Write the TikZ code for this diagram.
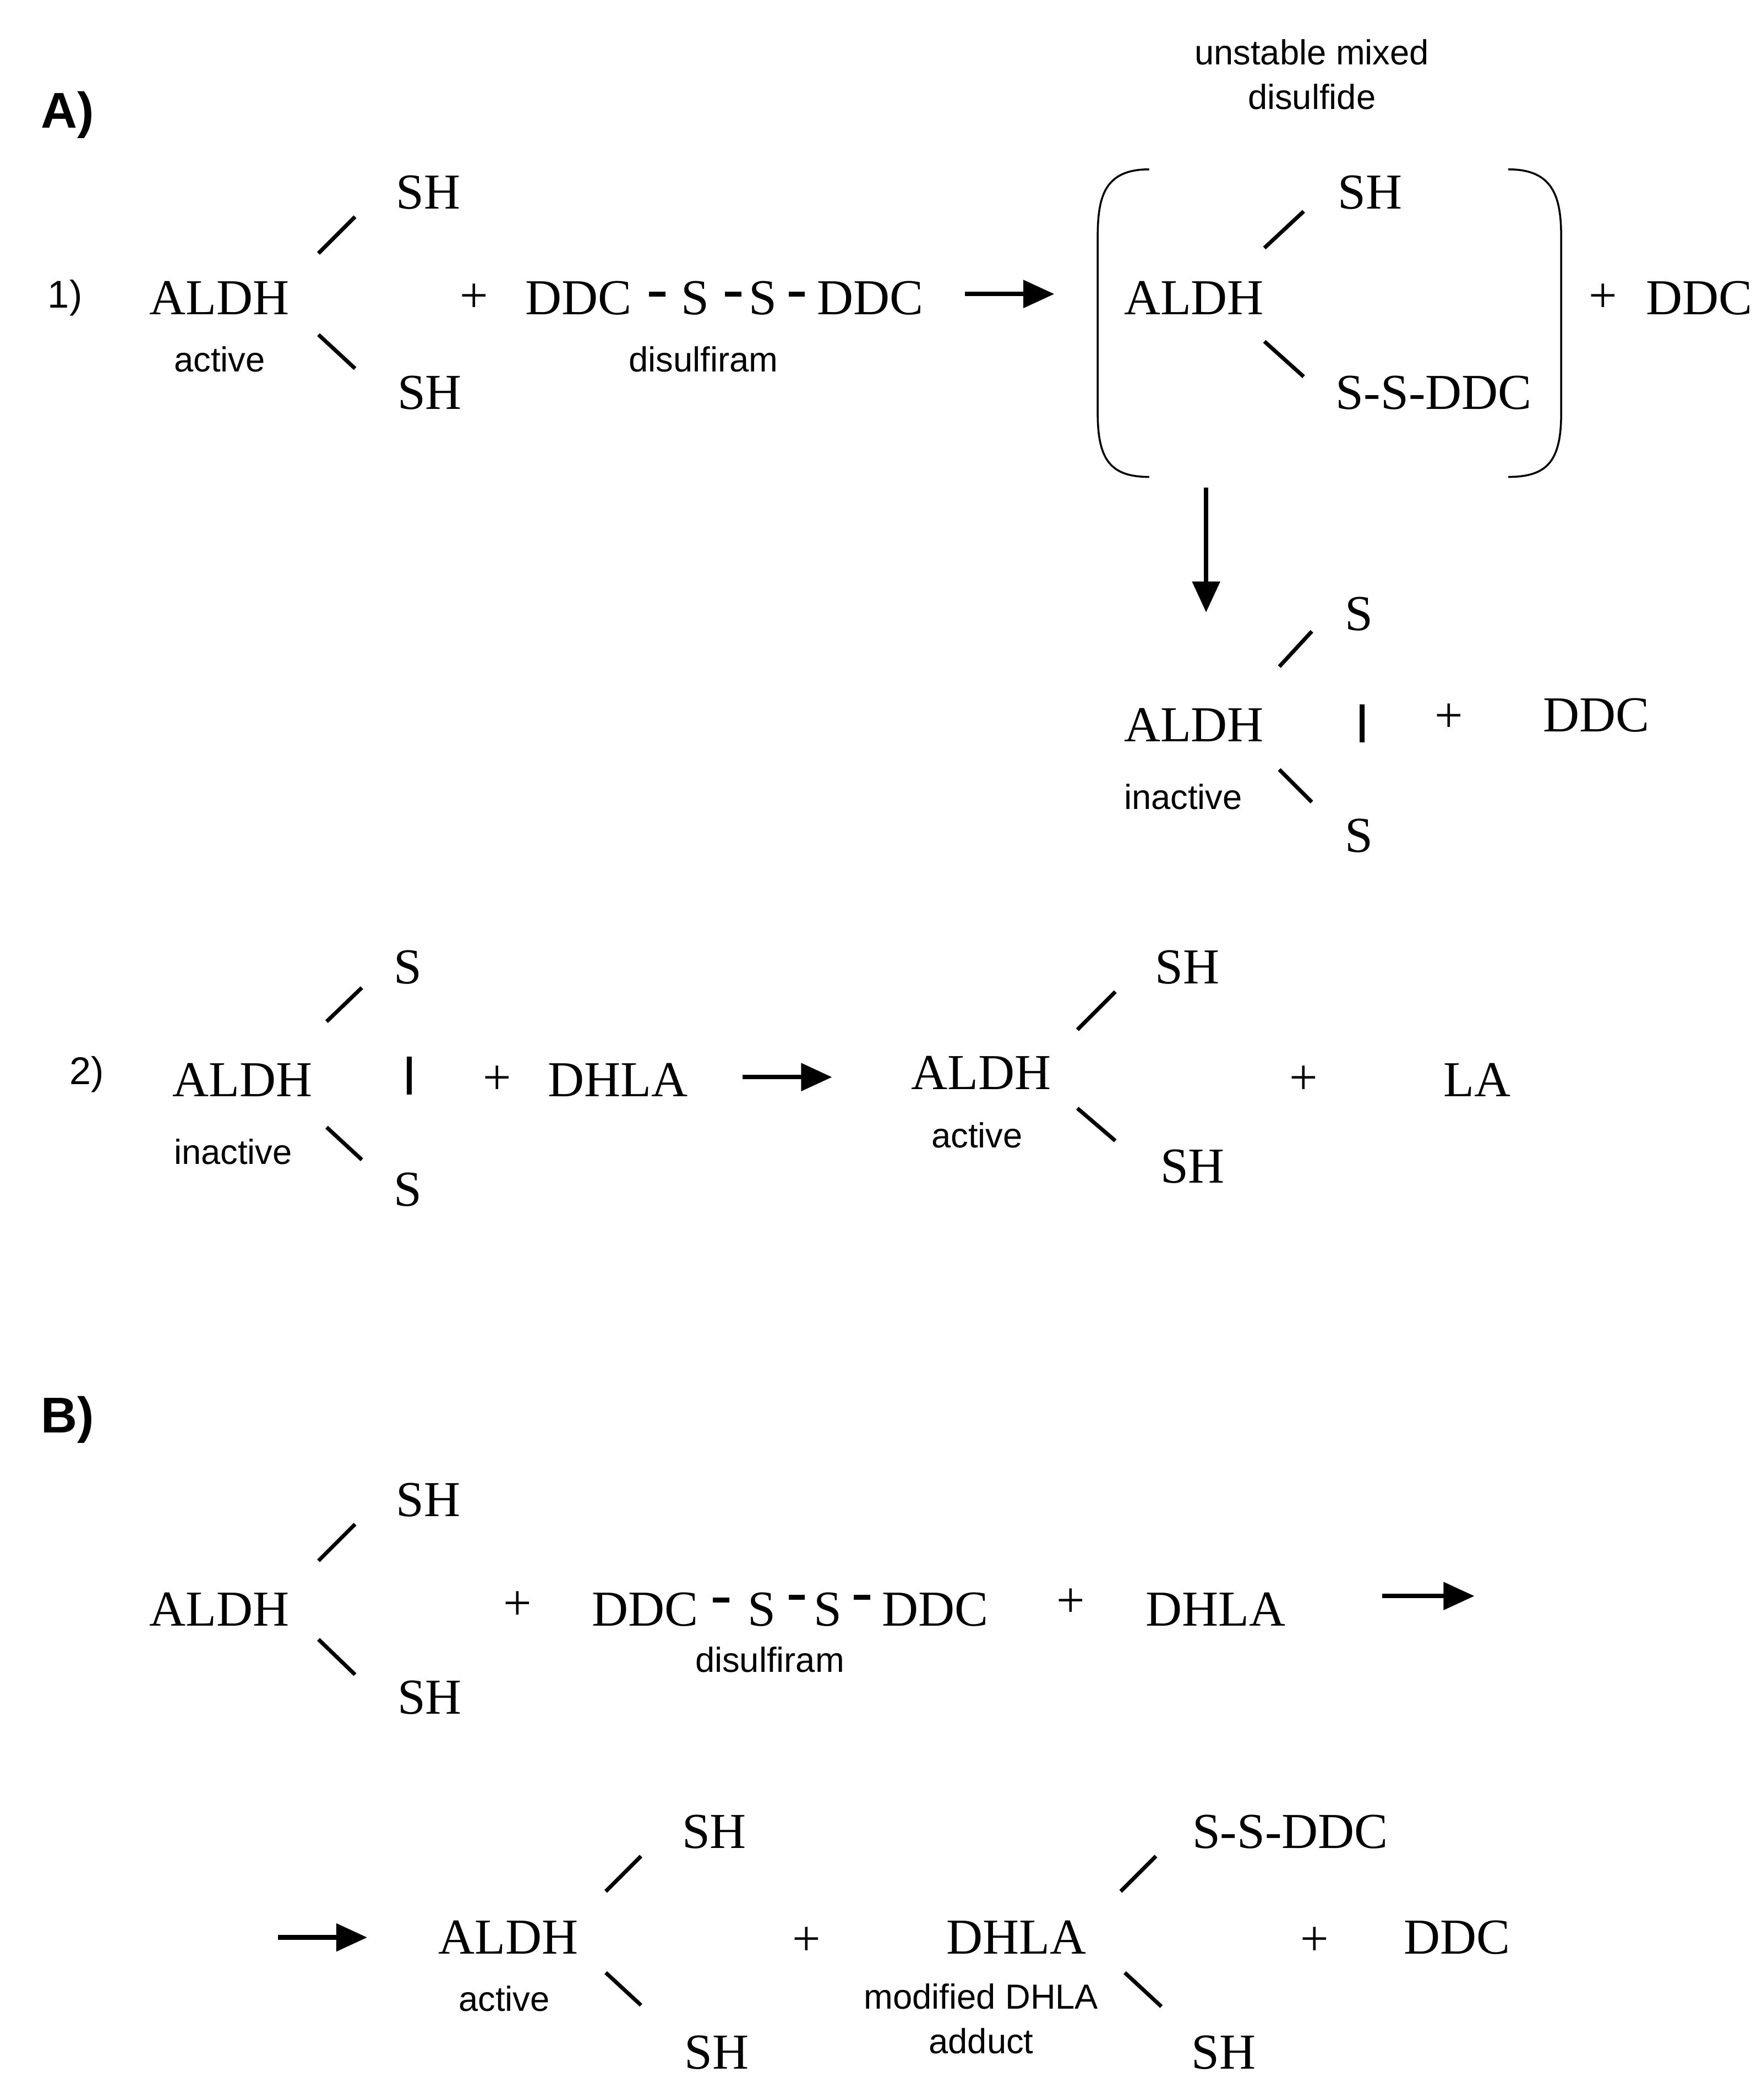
\documentclass[tikz,border=0pt]{standalone}
\usepackage{fontspec}
\setmainfont{Liberation Serif}
\setsansfont{Liberation Sans}
\usetikzlibrary{arrows.meta}
\begin{document}
\begin{tikzpicture}[x=0.024615cm,y=-0.024615cm,
  big/.style={font=\fontsize{26}{29}\selectfont},
  sm/.style={font=\sffamily\fontsize{18}{23}\selectfont,align=center},
  lbl/.style={font=\sffamily\bfseries\fontsize{26}{30}\selectfont},
  bond/.style={line width=2pt},
  rxn/.style={line width=2.4pt,-{Triangle[length=16pt,width=14pt]}}]
\useasboundingbox (0,0) rectangle (1300,1550);
% A
\node[lbl] (A) at (50,85) {A)};
\node[sm,font=\sffamily\fontsize{20}{22}\selectfont] (n1) at (48,220) {1)};
\node[big] (a1) at (162,220) {ALDH};
\node[sm] (a1s) at (162,265) {active};
\draw[bond] (235,187) -- (262,160); \node[big] (a1u) at (316,142) {SH};
\draw[bond] (235,247) -- (262,272); \node[big] (a1d) at (317,290) {SH};
\node[big] (p1) at (350,220) {+};
\node[big] (d1) at (427,220) {DDC};
\draw[line width=2.6pt] (479,217) -- (491,217);
\node[big] (s1) at (513,220) {S};
\draw[line width=2.6pt] (535,217) -- (547,217);
\node[big] (s2) at (563,220) {S};
\draw[line width=2.6pt] (582,217) -- (594,217);
\node[big] (d2) at (642,220) {DDC};
\node[sm] (ds1) at (519,265) {disulfiram};
\coordinate (r1a) at (712,217); \coordinate (r1b) at (778,217);
\draw[rxn] (r1a) -- (r1b);
\draw[line width=1pt] (848,125) .. controls (815,125) and (810,145) .. (810,175) -- (810,305) .. controls (810,340) and (820,352) .. (848,352);
\draw[line width=1pt] (1113,125) .. controls (1146,125) and (1152,145) .. (1152,175) -- (1152,305) .. controls (1152,340) and (1142,352) .. (1113,352);
\node[sm] (um) at (968,55) {unstable mixed\\disulfide};
\node[big] (a2) at (881,220) {ALDH};
\draw[bond] (933,183) -- (962,156); \node[big] (a2u) at (1011,142) {SH};
\draw[bond] (933,252) -- (962,278); \node[big] (a2d) at (1058,290) {S-S-DDC};
\node[big] (p2) at (1183,220) {+}; \node[big] (d3) at (1254,220) {DDC};
\coordinate (r2a) at (890,360); \coordinate (r2b) at (890,452);
\draw[rxn] (r2a) -- (r2b);
\node[big] (a3) at (881,535) {ALDH};
\node[sm] (a3s) at (873,588) {inactive};
\draw[bond] (944,492) -- (968,466); \node[big] (a3u) at (1003,453) {S};
\draw[line width=2.6pt] (1005,520) -- (1005,548);
\draw[bond] (944,568) -- (968,592); \node[big] (a3d) at (1003,617) {S};
\node[big] (p3) at (1069,530) {+}; \node[big] (d4) at (1178,528) {DDC};
% 2)
\node[sm,font=\sffamily\fontsize{20}{22}\selectfont] (n2) at (64,793) {2)};
\node[big] (b1) at (179,797) {ALDH};
\node[sm] (b1s) at (172,850) {inactive};
\draw[bond] (241,754) -- (267,729); \node[big] (b1u) at (301,714) {S};
\draw[line width=2.6pt] (302,780) -- (302,808);
\draw[bond] (241,832) -- (267,856); \node[big] (b1d) at (301,878) {S};
\node[big] (p4) at (367,797) {+}; \node[big] (dh1) at (456,797) {DHLA};
\coordinate (r3a) at (548,795); \coordinate (r3b) at (614,795);
\draw[rxn] (r3a) -- (r3b);
\node[big] (b2) at (724,792) {ALDH};
\node[sm] (b2s) at (721,838) {active};
\draw[bond] (795,760) -- (823,732); \node[big] (b2u) at (876,714) {SH};
\draw[bond] (795,818) -- (823,842); \node[big] (b2d) at (880,861) {SH};
\node[big] (p5) at (962,797) {+}; \node[big] (la) at (1090,797) {LA};
% B
\node[lbl] (B) at (50,1048) {B)};
\node[big] (c1) at (162,1188) {ALDH};
\draw[bond] (235,1152) -- (262,1125); \node[big] (c1u) at (316,1107) {SH};
\draw[bond] (235,1210) -- (262,1236); \node[big] (c1d) at (317,1253) {SH};
\node[big] (p6) at (382,1185) {+};
\node[big] (d5) at (476,1188) {DDC};
\draw[line width=2.6pt] (526,1181) -- (538,1181);
\node[big] (s3) at (562,1188) {S};
\draw[line width=2.6pt] (582,1179) -- (594,1179);
\node[big] (s4) at (611,1188) {S};
\draw[line width=2.6pt] (630,1179) -- (642,1179);
\node[big] (d6) at (690,1188) {DDC};
\node[sm] (ds2) at (568,1225) {disulfiram};
\node[big] (p7) at (790,1183) {+}; \node[big] (dh2) at (897,1188) {DHLA};
\coordinate (r4a) at (1020,1178); \coordinate (r4b) at (1088,1178);
\draw[rxn] (r4a) -- (r4b);
\coordinate (r5a) at (205,1430); \coordinate (r5b) at (271,1430);
\draw[rxn] (r5a) -- (r5b);
\node[big] (e1) at (375,1430) {ALDH};
\node[sm] (e1s) at (372,1475) {active};
\draw[bond] (447,1396) -- (473,1370); \node[big] (e1u) at (527,1352) {SH};
\draw[bond] (447,1456) -- (473,1480); \node[big] (e1d) at (529,1515) {SH};
\node[big] (p8) at (595,1433) {+};
\node[big] (dh3) at (750,1430) {DHLA};
\node[sm] (md) at (724,1490) {modified DHLA\\adduct};
\draw[bond] (827,1396) -- (853,1370); \node[big] (e2u) at (952,1352) {S-S-DDC};
\draw[bond] (830,1456) -- (857,1481); \node[big] (e2d) at (903,1515) {SH};
\node[big] (p9) at (970,1433) {+}; \node[big] (d7) at (1075,1430) {DDC};
\end{tikzpicture}
\end{document}
